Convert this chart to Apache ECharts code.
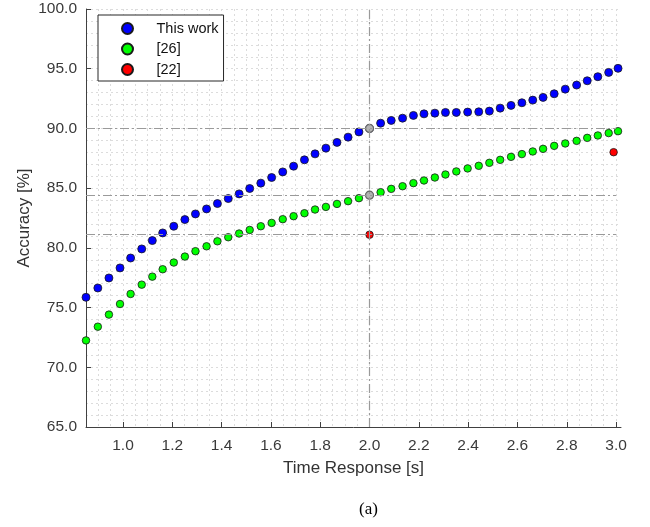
<!DOCTYPE html>
<html>
<head>
<meta charset="utf-8">
<script src="https://cdn.jsdelivr.net/npm/echarts@6.0.0/dist/echarts.min.js"></script>
<style>
html,body{margin:0;padding:0;background:#fff;}
#chart{width:650px;height:527px;}
</style>
</head>
<body>
<div id="chart"></div>
<script>
// Time response [s] for every plotted point
const timeResponse = [0.850, 0.898, 0.943, 0.988, 1.031, 1.076, 1.119, 1.161, 1.206, 1.251,
  1.294, 1.339, 1.383, 1.427, 1.471, 1.514, 1.559, 1.603, 1.648, 1.692,
  1.736, 1.779, 1.823, 1.868, 1.913, 1.957, 2.000, 2.045, 2.088, 2.134,
  2.178, 2.221, 2.265, 2.308, 2.352, 2.398, 2.443, 2.486, 2.530, 2.574,
  2.618, 2.662, 2.704, 2.749, 2.794, 2.840, 2.883, 2.926, 2.970, 3.008];

// Accuracy [%] – This work
const thisWork = [75.86, 76.64, 77.48, 78.32, 79.15, 79.91, 80.61, 81.25, 81.81, 82.37,
  82.84, 83.26, 83.71, 84.13, 84.52, 84.97, 85.42, 85.89, 86.36, 86.84,
  87.37, 87.87, 88.35, 88.83, 89.27, 89.71, 90.00, 90.44, 90.67, 90.86,
  91.09, 91.22, 91.28, 91.34, 91.34, 91.37, 91.39, 91.45, 91.70, 91.93,
  92.15, 92.37, 92.60, 92.90, 93.29, 93.63, 93.99, 94.33, 94.69, 95.03];

// Accuracy [%] – [26]
const ref26 = [72.25, 73.40, 74.41, 75.30, 76.14, 76.92, 77.59, 78.21, 78.77, 79.27,
  79.72, 80.13, 80.55, 80.89, 81.20, 81.50, 81.81, 82.09, 82.40, 82.65,
  82.90, 83.21, 83.43, 83.68, 83.91, 84.16, 84.41, 84.66, 84.94, 85.16,
  85.42, 85.64, 85.89, 86.14, 86.40, 86.65, 86.87, 87.12, 87.37, 87.62,
  87.85, 88.07, 88.29, 88.54, 88.74, 88.96, 89.21, 89.41, 89.61, 89.77];

// [22] – two points
const ref22Time = [2.0, 2.99];
const ref22Acc = [81.10, 88.01];

// Highlighted time (vertical dash-dot line)
const markTime = 2.0;
const markIndex = 26; // index of t = 2.0 in timeResponse

// Axis ticks
const xTicks = [1.0, 1.2, 1.4, 1.6, 1.8, 2.0, 2.2, 2.4, 2.6, 2.8, 3.0];
const xMinorGrid = [0.90, 0.95, 1.00, 1.05, 1.10, 1.15, 1.20, 1.25, 1.30, 1.35, 1.40, 1.45,
  1.50, 1.55, 1.60, 1.65, 1.70, 1.75, 1.80, 1.85, 1.90, 1.95, 2.00, 2.05, 2.10, 2.15,
  2.20, 2.25, 2.30, 2.35, 2.40, 2.45, 2.50, 2.55, 2.60, 2.65, 2.70, 2.75, 2.80, 2.85,
  2.90, 2.95, 3.00];
const yTicks = [65, 70, 75, 80, 85, 90, 95, 100];

const FONT = "'Liberation Sans', Arial, Helvetica, sans-serif";
const xMin = 0.85, xMax = 3.02;

const blueData = timeResponse.map((t, i) => [t, thisWork[i]]);
const greenData = timeResponse.map((t, i) => [t, ref26[i]]);
const redData = ref22Time.map((t, i) => [t, ref22Acc[i]]);
const grayData = [[timeResponse[markIndex], thisWork[markIndex]], [timeResponse[markIndex], ref26[markIndex]]];
const refLevels = [thisWork[markIndex], ref26[markIndex], ref22Acc[0]];

const gridLine = { color: '#dcdcdc', width: 1, type: [2, 3] };
const dashLine = { color: '#9a9a9a', width: 1.2, type: [9, 3, 2, 3] };
const markLineData = refLevels.map(v => [
  { coord: [xMin, v] }, { coord: [3.0, v] }
]);
markLineData.push([{ coord: [markTime, 65] }, { coord: [markTime, 100] }]);

const chart = echarts.init(document.getElementById('chart'), null, { renderer: 'canvas' });
chart.setOption({
  animation: false,
  backgroundColor: '#ffffff',
  grid: { left: 86, right: 29, top: 9, bottom: 100, containLabel: false },
  legend: {
    data: ['This work', '[26]', '[22]'],
    orient: 'vertical',
    left: 98, top: 15,
    icon: 'circle',
    itemWidth: 32, itemHeight: 11, itemGap: 5.5,
    padding: [6, 5, 4, 23],
    backgroundColor: '#ffffff',
    borderColor: '#262626', borderWidth: 1,
    textStyle: { fontFamily: FONT, fontSize: 14.5, color: '#111', lineHeight: 15, padding: [0, 0, 0, 8] }
  },
  xAxis: [{
    type: 'value', min: xMin, max: xMax,
    name: 'Time Response [s]', nameLocation: 'middle', nameGap: 33,
    nameMoveOverlap: false,
    nameTextStyle: { fontFamily: FONT, fontSize: 17, color: '#333' },
    axisLine: { show: true, onZero: false, lineStyle: { color: '#404040', width: 1 } },
    axisTick: { show: true, inside: true, length: 5, customValues: xTicks, lineStyle: { color: '#404040' } },
    axisLabel: { customValues: xTicks, margin: 11, fontFamily: FONT, fontSize: 15.5, color: '#3a3a3a',
      formatter: v => Number(v).toFixed(1) },
    splitLine: { show: false }
  }, {
    type: 'value', min: xMin, max: xMax, gridIndex: 0, position: 'top',
    axisLine: { show: false }, axisLabel: { show: false },
    axisTick: { show: false, customValues: xMinorGrid },
    splitLine: { show: true, lineStyle: gridLine }
  }],
  yAxis: {
    type: 'value', min: 65, max: 100, interval: 5,
    name: 'Accuracy [%]', nameLocation: 'middle', nameGap: 53,
    nameMoveOverlap: false,
    nameTextStyle: { fontFamily: FONT, fontSize: 17, color: '#333' },
    axisLine: { show: true, onZero: false, lineStyle: { color: '#404040', width: 1 } },
    axisTick: { show: true, inside: true, length: 5, lineStyle: { color: '#404040' } },
    axisLabel: { margin: 9, fontFamily: FONT, fontSize: 15.5, color: '#3a3a3a',
      formatter: v => Number(v).toFixed(1) },
    splitLine: { show: true, lineStyle: gridLine },
    minorTick: { show: false, splitNumber: 5 },
    minorSplitLine: { show: true, lineStyle: gridLine }
  },
  series: [
    {
      name: 'refLines', type: 'scatter', data: [], z: 1, silent: true,
      markLine: { silent: true, symbol: 'none', label: { show: false }, lineStyle: dashLine, data: markLineData, animation: false }
    },
    {
      name: 'This work', type: 'scatter', data: blueData, symbolSize: 8, z: 3,
      itemStyle: { color: '#0000ff', borderColor: '#1a1a1a', borderWidth: 0.8, opacity: 1 }
    },
    {
      name: '[26]', type: 'scatter', data: greenData, symbolSize: 7.5, z: 3,
      itemStyle: { color: '#00ff00', borderColor: '#1a1a1a', borderWidth: 0.8, opacity: 1 }
    },
    {
      name: '[22]', type: 'scatter', data: redData, symbolSize: 7.5, z: 3,
      itemStyle: { color: '#ff0000', borderColor: '#1a1a1a', borderWidth: 0.8, opacity: 1 }
    },
    {
      name: 'highlight', type: 'scatter', data: grayData, symbolSize: 8, z: 4,
      itemStyle: { color: '#b4b4b4', borderColor: '#6a6a6a', borderWidth: 1.2, opacity: 1 }
    }
  ],
  graphic: [{
    type: 'text', left: 359, top: 501,
    style: { text: '(a)', fontFamily: "'Liberation Serif', 'Times New Roman', serif", fontSize: 17, fill: '#000' }
  }]
});
</script>
</body>
</html>
